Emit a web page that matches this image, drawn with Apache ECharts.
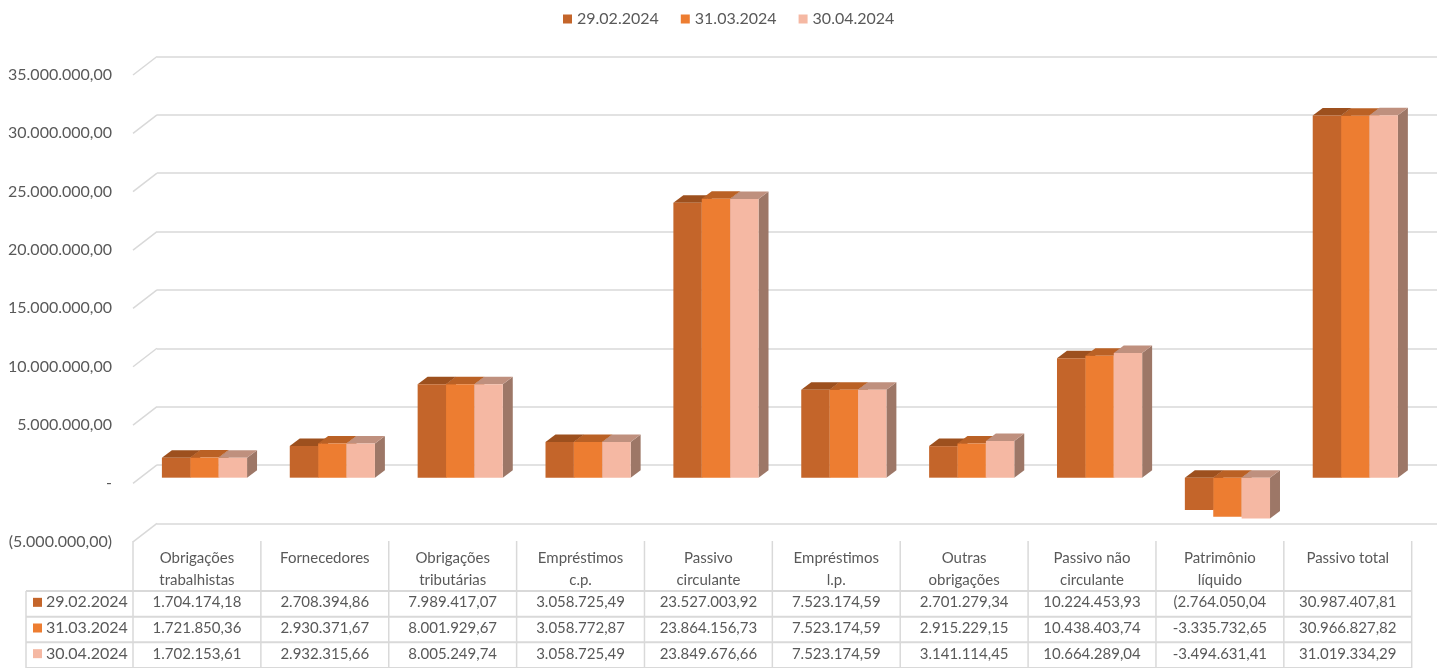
<!DOCTYPE html>
<html>
<head>
<meta charset="utf-8">
<script src="https://cdn.jsdelivr.net/npm/echarts@6/dist/echarts.min.js"></script>
<style>
html,body{margin:0;padding:0;background:#fff;}
#chart{width:1442px;height:668px;}
</style>
</head>
<body>
<div id="chart"></div>
<script>
// ---- data ----
const categories = ['Obrigações\ntrabalhistas','Fornecedores','Obrigações\ntributárias','Empréstimos\nc.p.','Passivo\ncirculante','Empréstimos\nl.p.','Outras\nobrigações','Passivo não\ncirculante','Patrimônio\nlíquido','Passivo total'];
const seriesNames = ['29.02.2024','31.03.2024','30.04.2024'];
const s1 = [1704174.18, 2708394.86, 7989417.07, 3058725.49, 23527003.92, 7523174.59, 2701279.34, 10224453.93, -2764050.04, 30987407.81];
const s2 = [1721850.36, 2930371.67, 8001929.67, 3058772.87, 23864156.73, 7523174.59, 2915229.15, 10438403.74, -3335732.65, 30966827.82];
const s3 = [1702153.61, 2932315.66, 8005249.74, 3058725.49, 23849676.66, 7523174.59, 3141114.45, 10664289.04, -3494631.41, 31019334.29];
const yMin = -5000000, yMax = 35000000, yStep = 5000000;
const seriesValues = [s1, s2, s3];
// negative display style in the data table per series (as in the source)
const negStyle = ['openParen', 'minus', 'minus'];

// ---- styles ----
const FONT = 'Lato';
const TXT = '#595959';
const LINE = '#D9D9D9';
const colors = [
  {front:'#C4652A', top:'#9D501E', side:'#8E4A22'},
  {front:'#ED7D31', top:'#BA6125', side:'#A8602F'},
  {front:'#F5B8A3', top:'#BF907E', side:'#9D7767'}
];

function fmtNum(v){
  const a = Math.abs(v);
  const parts = a.toFixed(2).split('.');
  const int = parts[0].replace(/\B(?=(\d{3})+(?!\d))/g, '.');
  return int + ',' + parts[1];
}
function fmtCell(v, si){
  if (v < 0) return (negStyle[si] === 'openParen' ? '(' : '-') + fmtNum(v);
  return fmtNum(v);
}
function fmtAxis(v){
  if (v === 0) return '-';
  if (v < 0) return '(' + fmtNum(v) + ')';
  return fmtNum(v);
}

const chart = echarts.init(document.getElementById('chart'));

function barRender(si){
  return function(params, api){
    const c = api.value(0), v = api.value(1);
    const base = api.coord([c, 0]);
    const p = api.coord([c, v]);
    const catW = api.size([1, 0])[0];
    const bw = catW * 0.222;
    const dx = catW * 0.078, dy = 7.5;
    const left = p[0] - catW * 0.274 + si * bw;
    const top = Math.min(p[1], base[1]);
    const bottom = Math.max(p[1], base[1]);
    const col = colors[si];
    return {
      type: 'group',
      children: [
        {type:'polygon', shape:{points:[[left+bw,top],[left+bw+dx,top-dy],[left+bw+dx,bottom-dy],[left+bw,bottom]]}, style:{fill:col.side}},
        {type:'polygon', shape:{points:[[left,top],[left+dx,top-dy],[left+bw+dx,top-dy],[left+bw,top]]}, style:{fill:col.top}},
        {type:'rect', shape:{x:left, y:top, width:bw, height:bottom-top}, style:{fill:col.front}}
      ]
    };
  };
}

const yTickValues = [];
for (let v = yMin; v <= yMax; v += yStep) yTickValues.push(v);

// table cells
const cellData = [];
seriesValues.forEach((arr, si) => arr.forEach((v, ci) => cellData.push([ci, si, v])));

const series = [];
seriesValues.forEach((arr, si) => {
  series.push({
    type: 'custom', name: seriesNames[si], xAxisIndex: 0, yAxisIndex: 0,
    itemStyle: {color: colors[si].front},
    renderItem: barRender(si),
    data: arr.map((v, i) => [i, v]),
    z: 3
  });
});
// back wall diagonals
series.push({
  type: 'custom', xAxisIndex: 1, yAxisIndex: 1, silent: true, z: 1,
  renderItem: function(params, api){
    const p = api.coord([0, api.value(0)]);
    return {type:'line', shape:{x1:p[0], y1:p[1], x2:p[0]-24, y2:p[1]+18.5}, style:{stroke:LINE, lineWidth:1.5}};
  },
  data: yTickValues.map(v => [v])
});
// table cell text
series.push({
  type: 'custom', xAxisIndex: 3, yAxisIndex: 3, silent: true,
  renderItem: function(params, api){
    const p = api.coord([api.value(0), api.value(1)]);
    const si = api.value(1);
    return {type:'text', style:{text: fmtCell(api.value(2), si), x:p[0], y:p[1]-1.5, align:'center', verticalAlign:'middle', fill:TXT, font:'15px ' + FONT}};
  },
  data: cellData
});
// row headers
series.push({
  type: 'custom', xAxisIndex: 3, yAxisIndex: 3, silent: true,
  renderItem: function(params, api){
    const r = api.value(1);
    const p = api.coord([0, r]);
    const catW = api.size([1, 0])[0];
    const x0 = p[0] - catW / 2;
    return {type:'group', children:[
      {type:'rect', shape:{x:x0-100, y:p[1]-6, width:9, height:9}, style:{fill:colors[r].front}},
      {type:'text', style:{text: seriesNames[r], x:x0-87, y:p[1]-1.5, align:'left', verticalAlign:'middle', fill:TXT, font:'16px ' + FONT}}
    ]};
  },
  data: seriesNames.map((n, i) => [0, i])
});
// table grid lines
series.push({
  type: 'custom', xAxisIndex: 3, yAxisIndex: 3, silent: true,
  renderItem: function(params, api){
    const catW = api.size([1, 0])[0];
    const rowH = api.size([0, 1])[1];
    const first = api.coord([0, 0]);
    const xl = first[0] - catW / 2;
    const yTop = first[1] - rowH / 2;
    const xr = xl + catW * categories.length;
    const keyLeft = xl - 107;
    const children = [];
    for (let r = 0; r <= seriesNames.length; r++) {
      const y = yTop + r * rowH;
      children.push({type:'line', shape:{x1:keyLeft, y1:y, x2:xr, y2:y}, style:{stroke:LINE, lineWidth:2}});
    }
    children.push({type:'line', shape:{x1:keyLeft, y1:yTop, x2:keyLeft, y2:yTop + 3*rowH}, style:{stroke:LINE, lineWidth:1.5}});
    for (let c = 0; c <= categories.length; c++) {
      const x = xl + c * catW;
      children.push({type:'line', shape:{x1:x, y1:yTop - 50, x2:x, y2:yTop + 3*rowH}, style:{stroke:LINE, lineWidth:1.5}});
    }
    return {type:'group', children};
  },
  data: [[0, 0]]
});

chart.setOption({
  animation: false,
  textStyle: {fontFamily: FONT, color: TXT},
  legend: {
    data: seriesNames, left: 558, top: 6, icon: 'rect', itemWidth: 9, itemHeight: 9, itemGap: 22,
    textStyle: {fontSize: 16, color: TXT, fontFamily: FONT}
  },
  grid: [
    {left: 133, right: 30.3, top: 68.7, bottom: 131.9},
    {left: 157, right: 5, top: 56.5, bottom: 144.7},
    {left: 133, right: 30.3, top: 75, bottom: 126.5},
    {left: 133, right: 30.3, top: 591, height: 83}
  ],
  xAxis: [
    {gridIndex: 0, type: 'category', data: categories, position: 'bottom',
     axisLine: {show: false}, axisTick: {show: false}, splitLine: {show: false},
     axisLabel: {interval: 0, margin: 11, fontSize: 15, lineHeight: 22, color: TXT, fontFamily: FONT, verticalAlign: 'top'}},
    {gridIndex: 1, type: 'value', min: 0, max: 1, show: false},
    {gridIndex: 2, type: 'value', min: 0, max: 1, show: false},
    {gridIndex: 3, type: 'category', data: categories, show: false}
  ],
  yAxis: [
    {gridIndex: 0, type: 'value', min: yMin, max: yMax, interval: yStep, show: false},
    {gridIndex: 1, type: 'value', min: yMin, max: yMax, interval: yStep,
     axisLine: {show: false}, axisTick: {show: false}, axisLabel: {show: false},
     splitLine: {show: true, lineStyle: {color: LINE, width: 1.5}}},
    {gridIndex: 2, type: 'value', min: yMin, max: yMax, interval: yStep,
     axisLine: {show: false}, axisTick: {show: false}, splitLine: {show: false},
     axisLabel: {margin: 21, fontSize: 16, color: TXT, fontFamily: FONT, formatter: fmtAxis}},
    {gridIndex: 3, type: 'category', data: seriesNames, inverse: true, show: false}
  ],
  series: series
});
</script>
</body>
</html>
